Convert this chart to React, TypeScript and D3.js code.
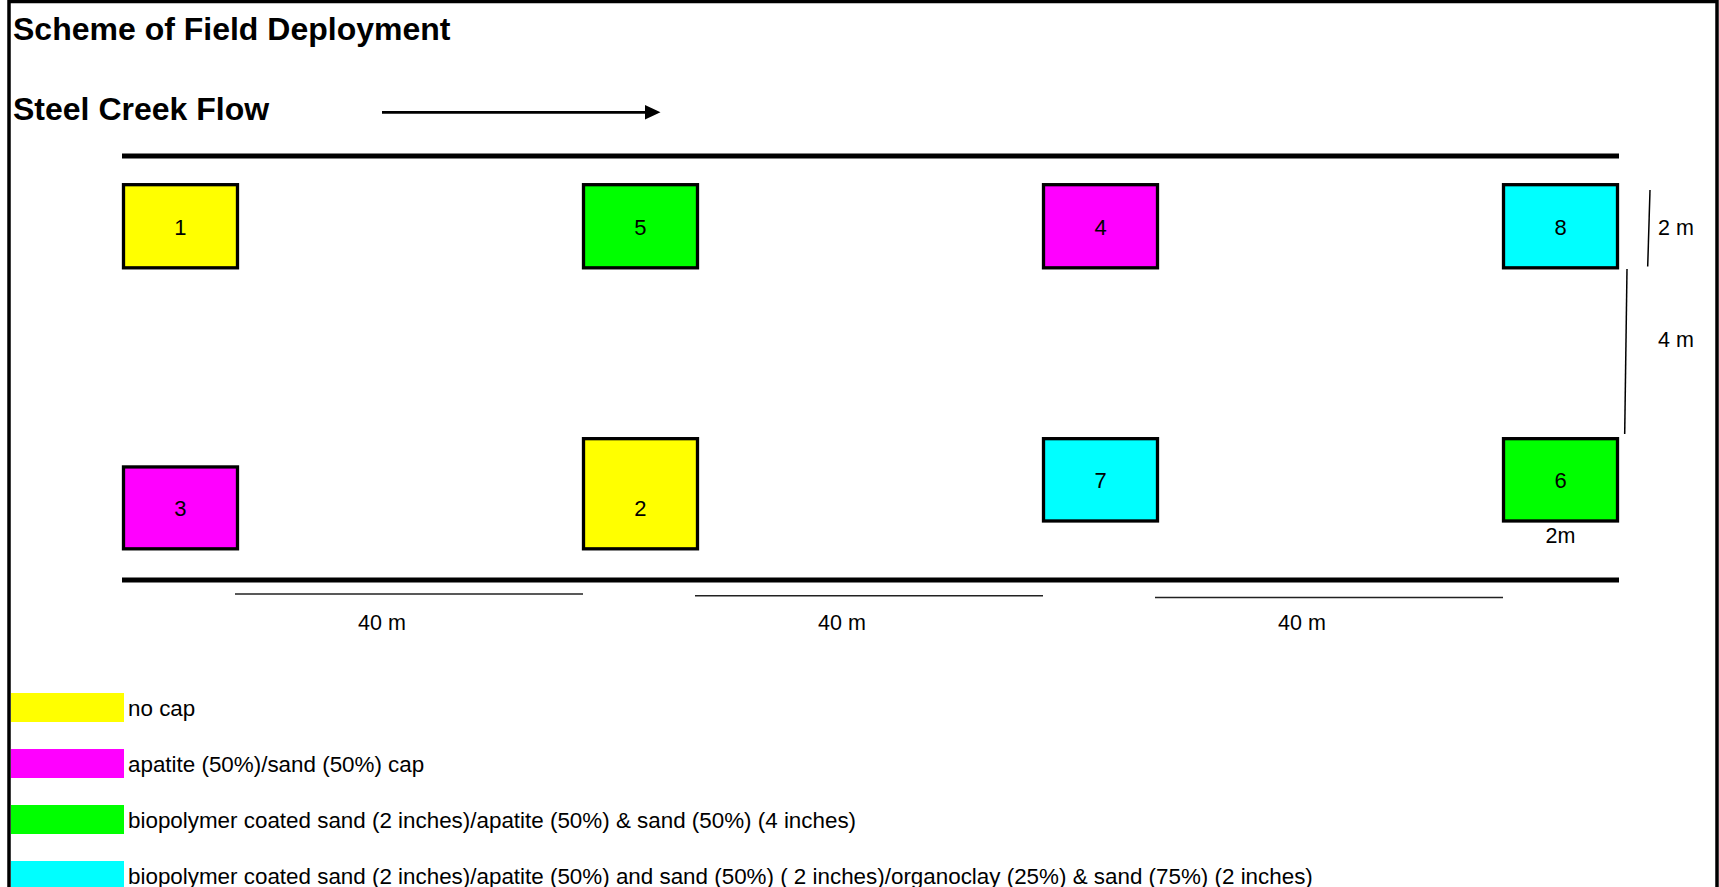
import React from "react";
import * as d3 from "d3";

// ---- data ----
const treatments = [
  "no cap",
  "apatite (50%)/sand (50%) cap",
  "biopolymer coated sand (2 inches)/apatite (50%) & sand (50%) (4 inches)",
  "biopolymer coated sand (2 inches)/apatite (50%) and sand (50%) ( 2 inches)/organoclay (25%) & sand (75%) (2 inches)",
];
const treatmentColors = ["#FFFF00", "#FF00FF", "#00FF00", "#00FFFF"];

// plots: id, column (downstream order), treatment index, top/bottom across creek (m)
const plotIds = [1, 5, 4, 8, 3, 2, 7, 6];
const plotColumns = [0, 1, 2, 3, 0, 1, 2, 3];
const plotTreatment = [0, 2, 1, 3, 1, 0, 3, 2];
const plotTop = [0.69, 0.69, 0.69, 0.69, 7.48, 6.8, 6.8, 6.8];
const plotBottom = [2.69, 2.69, 2.69, 2.69, 9.45, 9.45, 8.78, 8.78];

const spacingLabels = ["40 m", "40 m", "40 m"];
const creekWidth = 10.2; // m between banks (drawing)

const FONT = "'Liberation Sans', Arial, Helvetica, sans-serif";

export default function App() {
  const W = 1719;
  const H = 887;

  const x = d3
    .scaleBand<number>()
    .domain([0, 1, 2, 3])
    .range([123.5, 1617.5])
    .paddingInner(0.7522)
    .paddingOuter(0);
  const bw = x.bandwidth();
  const y = d3.scaleLinear().domain([0, creekWidth]).range([156, 580]);

  const leftBank = (x(0) as number) - 1.5;
  const rightBank = (x(3) as number) + bw + 1.5;

  const legendY = d3.scalePoint<number>().domain([0, 1, 2, 3]).range([693, 861]);

  return (
    <svg
      width={W}
      height={H}
      style={{ position: "absolute", left: 0, top: 0, background: "#fff" }}
      fontFamily={FONT}
    >
      {/* frame */}
      <rect x={9} y={1.5} width={1708} height={1000} fill="none" stroke="#000" strokeWidth={3.5} />

      <text x={13} y={39.5} fontSize={32} fontWeight="bold" fill="#000">
        Scheme of Field Deployment
      </text>
      <text x={13} y={120} fontSize={32} fontWeight="bold" fill="#000">
        Steel Creek Flow
      </text>

      {/* flow arrow */}
      <line x1={382} y1={112.3} x2={647} y2={112.3} stroke="#000" strokeWidth={2.7} />
      <polygon points="645,105 660.5,112.3 645,119.6" fill="#000" />

      {/* creek banks */}
      <line x1={leftBank} x2={rightBank} y1={y(0)} y2={y(0)} stroke="#000" strokeWidth={5} />
      <line x1={leftBank} x2={rightBank} y1={y(creekWidth)} y2={y(creekWidth)} stroke="#000" strokeWidth={5} />

      {/* plots */}
      {plotIds.map((id, i) => {
        const x0 = x(plotColumns[i]) as number;
        const y0 = y(plotTop[i]);
        const y1 = y(plotBottom[i]);
        return (
          <g key={id}>
            <rect
              x={x0}
              y={y0}
              width={bw}
              height={y1 - y0}
              fill={treatmentColors[plotTreatment[i]]}
              stroke="#000"
              strokeWidth={3.3}
            />
            <text
              x={x0 + bw / 2}
              y={y(plotBottom[i] - 1) + 8.5}
              fontSize={22}
              textAnchor="middle"
              fill="#000"
            >
              {id}
            </text>
          </g>
        );
      })}

      {/* spacing between plots */}
      {spacingLabels.map((lab, i) => {
        const xa = (x(i) as number) + bw - 2.5;
        const xb = (x(i + 1) as number) - 0.5;
        const ly = y(creekWidth) + 14 + i * 1.7;
        return (
          <g key={"sp" + i}>
            <line x1={xa} x2={xb} y1={ly} y2={ly} stroke="#222" strokeWidth={1.5} />
            <text x={(x(i) as number) + 258.5} y={630} fontSize={21.5} textAnchor="middle" fill="#000">
              {lab}
            </text>
          </g>
        );
      })}

      {/* plot width / across-creek dimensions */}
      <line x1={1650} y1={y(0.82)} x2={1647.7} y2={y(2.66)} stroke="#000" strokeWidth={1.5} />
      <text x={1658} y={235} fontSize={21.5} fill="#000">2 m</text>
      <line x1={1627} y1={y(2.72)} x2={1624.7} y2={y(6.69)} stroke="#000" strokeWidth={1.5} />
      <text x={1658} y={347} fontSize={21.5} fill="#000">4 m</text>
      <text x={(x(3) as number) + bw / 2} y={543} fontSize={21.5} textAnchor="middle" fill="#000">
        2m
      </text>

      {/* legend */}
      {treatments.map((t, i) => {
        const ly = legendY(i) as number;
        return (
          <g key={"lg" + i}>
            <rect x={11} y={ly} width={113} height={29} fill={treatmentColors[i]} />
            <text x={128} y={ly + 22.5} fontSize={22.4} fill="#000">
              {t}
            </text>
          </g>
        );
      })}
    </svg>
  );
}
